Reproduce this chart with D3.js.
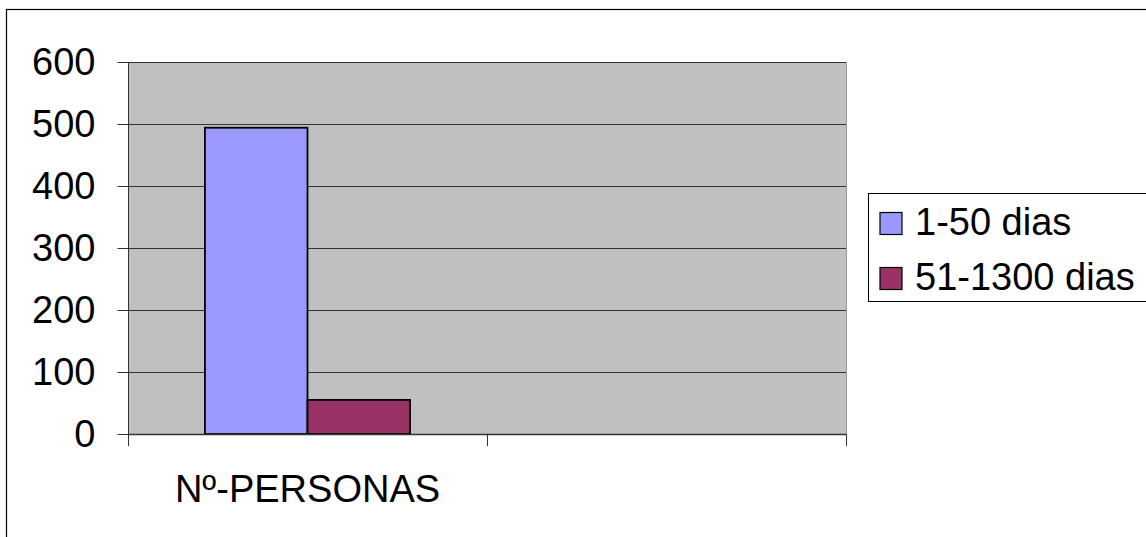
<!DOCTYPE html>
<html><head><meta charset="utf-8">
<script src="https://cdn.jsdelivr.net/npm/d3@7"></script>
<style>body{margin:0;background:#fff}svg{display:block}text{font-family:"Liberation Sans",Arial,sans-serif}</style>
</head><body>
<svg id="c" width="1146" height="537"></svg>
<script>
const categories = ["Nº-PERSONAS", ""];
const seriesNames = ["1-50 dias", "51-1300 dias"];
const series1 = [494, null];
const series2 = [55, null];
const yTicks = [0, 100, 200, 300, 400, 500, 600];
const colors = ["#9999FF", "#993366"];

const svg = d3.select("#c");
const W = 1146, H = 537;
const plot = {l: 128, t: 62, r: 846, b: 434};
const FS = 38;

// outer frame
svg.append("rect").attr("x", 6.5).attr("y", 9.5).attr("width", W + 10).attr("height", H + 10)
  .attr("fill", "#fff").attr("stroke", "#000").attr("stroke-width", 1.2);

const y = d3.scaleLinear().domain([0, 600]).range([plot.b, plot.t]);
const x0 = d3.scaleBand().domain(categories.map((c, i) => i)).range([plot.l, plot.r]).paddingInner(0).paddingOuter(0);
const x1 = d3.scaleBand().domain(seriesNames).range([0, x0.bandwidth()]).paddingInner(0).paddingOuter(0.75);

svg.append("rect").attr("x", plot.l).attr("y", plot.t).attr("width", plot.r - plot.l).attr("height", plot.b - plot.t)
  .attr("fill", "#C0C0C0");

// gridlines
svg.append("g").selectAll("line").data(yTicks).join("line")
  .attr("x1", plot.l).attr("x2", plot.r)
  .attr("y1", d => Math.round(y(d)) + 0.5).attr("y2", d => Math.round(y(d)) + 0.5)
  .attr("stroke", "#333").attr("stroke-width", 1);

// right plot border (light)
svg.append("line").attr("x1", plot.r + 0.5).attr("x2", plot.r + 0.5).attr("y1", plot.t).attr("y2", plot.b)
  .attr("stroke", "#999");

// bars
const data = categories.map((c, i) => ({i, vals: [series1[i], series2[i]]}));
const g = svg.append("g");
data.forEach(d => {
  d.vals.forEach((v, k) => {
    if (v == null) return;
    g.append("rect")
      .attr("x", x0(d.i) + x1(seriesNames[k]))
      .attr("y", y(v))
      .attr("width", x1.bandwidth())
      .attr("height", y(0) - y(v))
      .attr("fill", colors[k]).attr("stroke", "#000").attr("stroke-width", 1.8);
  });
});

// y axis
const yAxis = d3.axisLeft(y).tickValues(yTicks).tickSize(11).tickPadding(22).tickFormat(d3.format("d"));
const ya = svg.append("g").attr("transform", `translate(${plot.l + 0.5},0)`).call(yAxis);
ya.select(".domain").attr("stroke", "#333").attr("d", `M0,${plot.t}V${plot.b}`);
ya.selectAll(".tick line").attr("stroke", "#333");
ya.selectAll(".tick text").attr("font-size", FS).attr("fill", "#000")
  .attr("font-family", "Liberation Sans, Arial, sans-serif");

// x axis
svg.append("line").attr("x1", plot.l).attr("x2", plot.r).attr("y1", plot.b + 0.5).attr("y2", plot.b + 0.5).attr("stroke", "#333").attr("stroke-width", 1.5);
const edges = categories.map((c, i) => x0(i)).concat([plot.r]);
svg.append("g").selectAll("line").data(edges).join("line")
  .attr("x1", d => Math.round(d) + 0.5).attr("x2", d => Math.round(d) + 0.5)
  .attr("y1", plot.b).attr("y2", plot.b + 12).attr("stroke", "#333");
svg.append("g").selectAll("text").data(categories).join("text")
  .attr("x", (d, i) => x0(i) + x0.bandwidth() / 2).attr("y", 502)
  .attr("text-anchor", "middle").attr("font-size", FS).attr("fill", "#000").text(d => d);

// legend
const lg = svg.append("g");
lg.append("rect").attr("x", 868.5).attr("y", 193.5).attr("width", 290).attr("height", 108)
  .attr("fill", "#fff").attr("stroke", "#000").attr("stroke-width", 1);
seriesNames.forEach((s, k) => {
  lg.append("rect").attr("x", 880).attr("y", 212.5 + k * 55).attr("width", 22).attr("height", 22)
    .attr("fill", colors[k]).attr("stroke", "#000").attr("stroke-width", 1.2);
  lg.append("text").attr("x", 915).attr("y", 235 + k * 54.5).attr("font-size", FS).attr("fill", "#000").text(s);
});
</script>
</body></html>
